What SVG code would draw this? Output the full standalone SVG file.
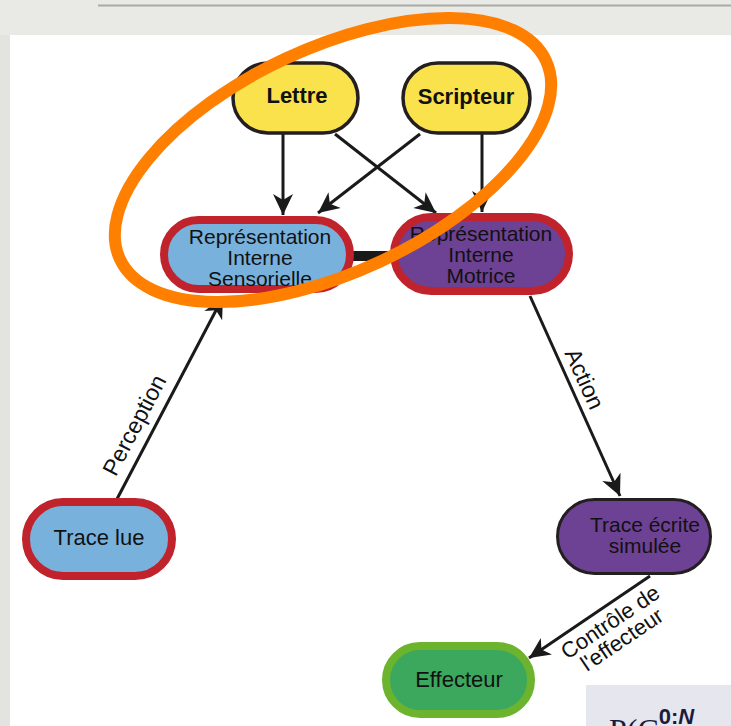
<svg xmlns="http://www.w3.org/2000/svg" width="731" height="726" viewBox="0 0 731 726">
  <defs>
    <marker id="head" markerUnits="userSpaceOnUse" markerWidth="24" markerHeight="24" viewBox="-22 -12 24 24" refX="0" refY="0" orient="auto">
      <path d="M0,0 L-21,-10 L-15,0 L-21,10 Z" fill="#1b1a1a"/>
    </marker>
    <style>
      .txt { font-family: "Liberation Sans", Arial, sans-serif; fill: #111; text-anchor: middle; }
      .node { font-size: 22px; }
      .multi { font-size: 21px; }
      .bold { font-size: 22px; font-weight: bold; }
      .lbl { font-size: 23px; }
      .arrow { stroke: #1b1a1a; stroke-width: 3; fill: none; marker-end: url(#head); }
      .yellow { fill: #f9e24b; stroke: #231f20; stroke-width: 3.5; }
      .blue { fill: #79b1dd; stroke: #c1232d; stroke-width: 8; }
      .purple { fill: #6d4193; stroke: #c1232d; stroke-width: 8; }
      .purple-thin { fill: #6d4193; stroke: #231f20; stroke-width: 3; }
      .green { fill: #3ba85e; stroke: #6cb42e; stroke-width: 8; }
    </style>
  </defs>

  <!-- page background and slide panel -->
  <rect x="0" y="0" width="731" height="726" fill="#e3e3df"/>
  <rect x="0" y="0" width="731" height="35" fill="#e9e9e5"/>
  <line x1="98" y1="5.5" x2="731" y2="5.5" stroke="#a9a9a7" stroke-width="2"/>
  <rect x="10" y="35" width="721" height="691" fill="#ffffff"/>

  <!-- connectors -->
  <g id="connectors">
    <line class="arrow" x1="283" y1="134" x2="283" y2="215"/>
    <line class="arrow" x1="335" y1="134" x2="436" y2="213"/>
    <line class="arrow" x1="420" y1="134" x2="318" y2="213"/>
    <line class="arrow" x1="482" y1="134" x2="482" y2="212"/>
    <line x1="350" y1="256" x2="394" y2="256" stroke="#1b1a1a" stroke-width="10"/>
    <line class="arrow" x1="117" y1="499" x2="223" y2="297"/>
    <line class="arrow" x1="530" y1="296" x2="620" y2="496"/>
    <line class="arrow" x1="650" y1="576" x2="529" y2="658"/>
    <text class="txt lbl" transform="translate(151,434) rotate(-62.2)" x="0" y="-11">Perception</text>
    <text class="txt lbl" transform="translate(571,385) rotate(65.8)" x="0" y="-7">Action</text>
    <g transform="translate(602,610) rotate(-34)">
      <text class="txt node" x="0" y="22">Contrôle de</text>
      <text class="txt node" x="0" y="43">l'effecteur</text>
    </g>
  </g>

  <g id="lettre">
    <rect class="yellow" x="233" y="63" width="125" height="70" rx="35"/>
    <text class="txt bold" x="297" y="103">Lettre</text>
  </g>
  <g id="scripteur">
    <rect class="yellow" x="403" y="63" width="127" height="70" rx="35"/>
    <text class="txt bold" x="466" y="104">Scripteur</text>
  </g>
  <g id="ri-sensorielle">
    <rect class="blue" x="164" y="220" width="186" height="69" rx="34.5"/>
    <text class="txt multi" x="260" y="244">Représentation</text>
    <text class="txt multi" x="260" y="265">Interne</text>
    <text class="txt multi" x="260" y="286">Sensorielle</text>
  </g>
  <g id="ri-motrice">
    <rect class="purple" x="394" y="217" width="175" height="74" rx="37"/>
    <text class="txt multi" x="481" y="241">Représentation</text>
    <text class="txt multi" x="481" y="262">Interne</text>
    <text class="txt multi" x="481" y="283">Motrice</text>
  </g>
  <g id="trace-lue">
    <rect class="blue" x="26" y="502" width="146" height="74" rx="37"/>
    <text class="txt node" x="99" y="545">Trace lue</text>
  </g>
  <g id="trace-ecrite">
    <rect class="purple-thin" x="557.5" y="499.5" width="153" height="74" rx="37"/>
    <text class="txt multi" x="645" y="532">Trace écrite</text>
    <text class="txt multi" x="645" y="553">simulée</text>
  </g>
  <g id="effecteur">
    <rect class="green" x="386" y="646" width="145" height="68" rx="34"/>
    <text class="txt node" x="459" y="687">Effecteur</text>
  </g>

  <!-- orange highlight around the top of the graph -->
  <ellipse cx="333" cy="160" rx="235" ry="112" transform="rotate(-25 333 160)" fill="none" stroke="#ff7f00" stroke-width="12"/>

  <!-- formula box at the lower right edge -->
  <g id="formula">
    <rect x="586" y="685" width="145" height="41" fill="#e6e6ef"/>
    <text x="609" y="741" font-family="Liberation Serif, serif" font-size="32" fill="#1c1c3a">P(C<tspan dy="-17" font-size="22" font-family="Liberation Sans, sans-serif" font-weight="bold">0:<tspan font-style="italic">N</tspan></tspan></text>
  </g>
</svg>
